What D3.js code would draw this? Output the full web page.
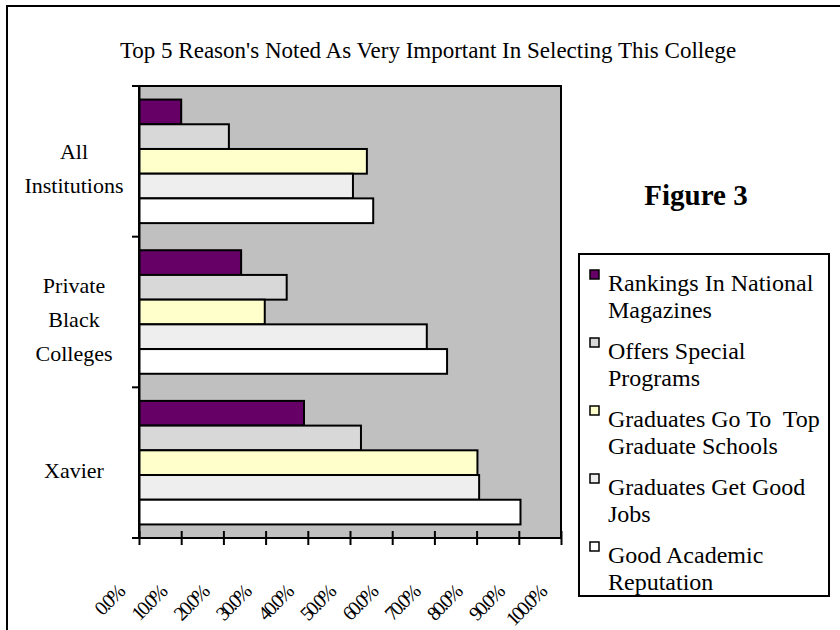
<!DOCTYPE html>
<html>
<head>
<meta charset="utf-8">
<script src="https://cdn.jsdelivr.net/npm/d3@7"></script>
<style>
  body { margin: 0; background: #fff; }
  text { font-family: "Liberation Serif", "Times New Roman", serif; fill: #000; white-space: pre; }
</style>
</head>
<body>
<svg id="chart"></svg>
<script>
// data (percent)
var categories = ["All Institutions", "Private Black Colleges", "Xavier"]
var categoryLines = [["All", "Institutions"], ["Private", "Black", "Colleges"], ["Xavier"]]
var reasons = ["Rankings In National Magazines", "Offers Special Programs",
  "Graduates Go To  Top Graduate Schools", "Graduates Get Good Jobs", "Good Academic Reputation"]
var legendLines = [["Rankings In National", "Magazines"], ["Offers Special", "Programs"],
  ["Graduates Go To  Top", "Graduate Schools"], ["Graduates Get Good", "Jobs"],
  ["Good Academic", "Reputation"]]
var rankings   = [10.0, 24.2, 39.1]
var offers     = [21.3, 35.0, 52.6]
var gradSchool = [54.0, 29.8, 80.2]
var goodJobs   = [50.7, 68.2, 80.6]
var reputation = [55.5, 73.0, 90.4]
var series = [rankings, offers, gradSchool, goodJobs, reputation]
var colors = ["#660066", "#d8d8d8", "#ffffcc", "#eeeeee", "#ffffff"]
var xTicks = [0, 10, 20, 30, 40, 50, 60, 70, 80, 90, 100]

var screen = { width: 840, height: 630 }
var plot = { left: 139, top: 86, right: 561, bottom: 538 }

var svg = d3.select("#chart")
  .attr("width", screen.width)
  .attr("height", screen.height)

// outer frame
svg.append("rect")
  .attr("x", 7).attr("y", 6)
  .attr("width", 860).attr("height", 660)
  .attr("fill", "none").attr("stroke", "#000").attr("stroke-width", 2)

svg.append("text")
  .attr("x", 428).attr("y", 58)
  .attr("text-anchor", "middle")
  .attr("font-size", "23px")
  .text("Top 5 Reason's Noted As Very Important In Selecting This College")

var xScale = d3.scaleLinear()
  .domain([0, 100])
  .range([plot.left, plot.right])

var yScale = d3.scaleBand()
  .domain(categories)
  .range([plot.top, plot.bottom])
  .paddingInner(0.18)
  .paddingOuter(0.09)

var ySub = d3.scaleBand()
  .domain(d3.range(reasons.length))
  .range([0, yScale.bandwidth()])

svg.append("rect")
  .attr("x", plot.left).attr("y", plot.top)
  .attr("width", plot.right - plot.left).attr("height", plot.bottom - plot.top)
  .attr("fill", "#c0c0c0").attr("stroke", "#000").attr("stroke-width", 2)

var groups = svg.selectAll("g.cat")
  .data(categories)
  .enter()
  .append("g")
  .attr("class", "cat")
  .attr("transform", function(d){ return "translate(0," + yScale(d) + ")" })

groups.selectAll("rect")
  .data(function(d, i){
    return series.map(function(s, j){ return { j: j, v: s[i] } })
  })
  .enter()
  .append("rect")
  .attr("x", xScale(0))
  .attr("y", function(d){ return ySub(d.j) })
  .attr("width", function(d){ return xScale(d.v) - xScale(0) })
  .attr("height", ySub.bandwidth())
  .attr("fill", function(d){ return colors[d.j] })
  .attr("stroke", "#000")
  .attr("stroke-width", 2)

// category axis
var yAxis = d3.axisLeft(yScale).tickSize(0).tickFormat("")
svg.append("g")
  .attr("transform", "translate(" + plot.left + ",0)")
  .call(yAxis)
  .call(function(g){ g.select(".domain").attr("stroke-width", 2) })

var step = yScale.step()
svg.append("g").selectAll("line")
  .data(d3.range(categories.length + 1))
  .enter()
  .append("line")
  .attr("x1", plot.left - 7).attr("x2", plot.left)
  .attr("y1", function(d){ return plot.top + d * step })
  .attr("y2", function(d){ return plot.top + d * step })
  .attr("stroke", "#000").attr("stroke-width", 2)

svg.selectAll("text.catlabel")
  .data(categories)
  .enter()
  .append("text")
  .attr("class", "catlabel")
  .attr("text-anchor", "middle")
  .attr("font-size", "22px")
  .each(function(d, i){
    var lines = categoryLines[i]
    var c = yScale(d) + yScale.bandwidth() / 2 + 15
    var t = d3.select(this)
    lines.forEach(function(l, k){
      t.append("tspan")
        .attr("x", 74)
        .attr("y", c + (k - (lines.length - 1) / 2) * 34)
        .text(l)
    })
  })

// value axis
var xAxis = d3.axisBottom(xScale)
  .tickValues(xTicks)
  .tickSize(7)
  .tickFormat("")
var xg = svg.append("g")
  .attr("transform", "translate(0," + plot.bottom + ")")
  .call(xAxis)
xg.select(".domain").attr("stroke-width", 2).attr("d", "M" + (plot.left - 7) + ",0H" + plot.right)
xg.selectAll(".tick line").attr("stroke-width", 2).attr("y1", -7).attr("y2", 7)

svg.selectAll("text.tick")
  .data(xTicks)
  .enter()
  .append("text")
  .attr("class", "tick")
  .attr("text-anchor", "end")
  .attr("font-size", "20px")
  .attr("letter-spacing", "-2.5px")
  .attr("transform", function(d){
    return "translate(" + (xScale(d) - 14) + ",594) rotate(-45)"
  })
  .text(function(d){ return d.toFixed(1) + "%" })

svg.append("text")
  .attr("x", 696).attr("y", 205)
  .attr("text-anchor", "middle")
  .attr("font-size", "29px")
  .attr("font-weight", "bold")
  .text("Figure 3")

// legend
var legend = svg.append("g")
legend.append("rect")
  .attr("x", 579).attr("y", 254)
  .attr("width", 250).attr("height", 342)
  .attr("fill", "#fff").attr("stroke", "#000").attr("stroke-width", 2)

var items = legend.selectAll("g.item")
  .data(reasons)
  .enter()
  .append("g")
  .attr("class", "item")
  .attr("transform", function(d, i){ return "translate(0," + (i * 68) + ")" })

items.append("rect")
  .attr("x", 590).attr("y", 270)
  .attr("width", 9).attr("height", 9)
  .attr("fill", function(d, i){ return colors[i] })
  .attr("stroke", "#000").attr("stroke-width", 1.5)

items.append("text")
  .attr("font-size", "24px")
  .each(function(d, i){
    var t = d3.select(this)
    legendLines[i].forEach(function(l, k){
      t.append("tspan").attr("x", 608).attr("y", 291 + k * 26.7).text(l)
    })
  })
</script>
</body>
</html>
